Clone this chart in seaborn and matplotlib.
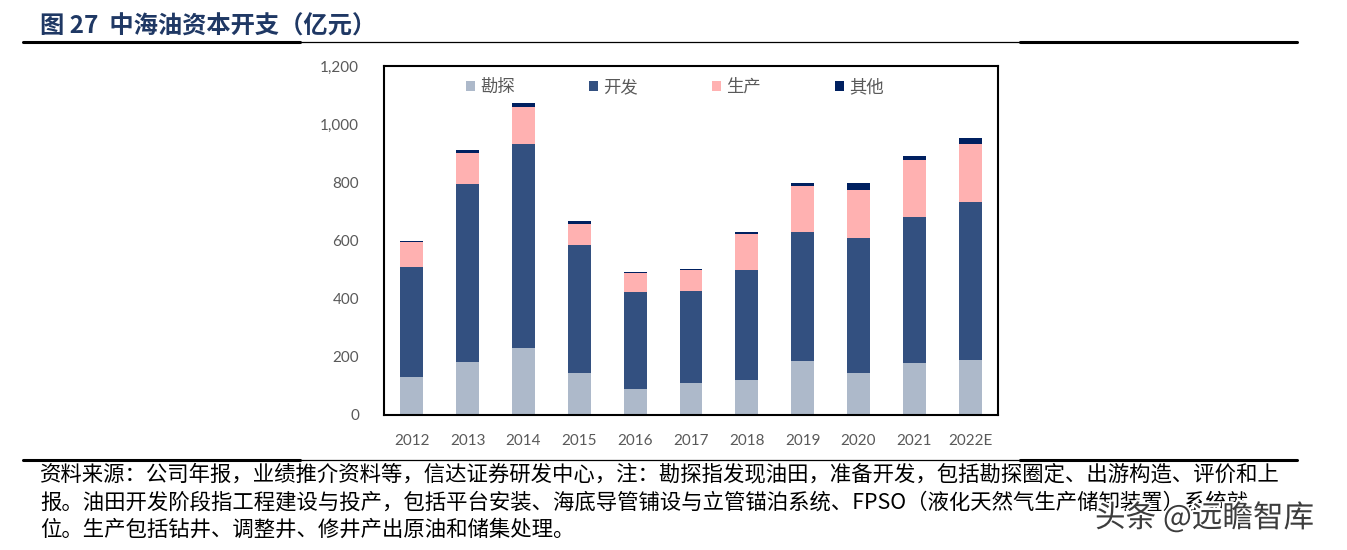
import numpy as np
import pandas as pd
import seaborn as sns
import matplotlib.pyplot as plt
import matplotlib.patheffects as pe
from matplotlib.lines import Line2D
from matplotlib.patches import Patch
from matplotlib.ticker import FuncFormatter

# values (亿元)
years = ["2012", "2013", "2014", "2015", "2016", "2017", "2018", "2019", "2020", "2021", "2022E"]
explore = [129, 182, 231, 146, 90, 109, 122, 184, 143, 178, 189]
develop = [380, 612, 700, 439, 334, 319, 375, 444, 465, 503, 544]
produce = [85, 108, 129, 73, 63, 69, 125, 161, 167, 196, 199]
other = [4, 10, 14, 9, 4, 5, 6, 10, 24, 13, 20]

series_names = ["勘探", "开发", "生产", "其他"]
colors = ["#ADB9CA", "#335080", "#FFB1B1", "#002060"]

sns.set_style("white")
plt.rcParams["font.family"] = ["Noto Sans CJK SC", "DejaVu Sans"]

df = pd.DataFrame({"year": years, "勘探": explore, "开发": develop, "生产": produce, "其他": other})
stack = df[series_names].cumsum(axis=1)

fig = plt.figure(figsize=(13.47, 5.5), dpi=100)
ax = fig.add_axes([384 / 1347, 1 - 415 / 550, 614 / 1347, 349 / 550])

# draw the stacks from the top segment down so each lower part covers the rest
for name, col in reversed(list(zip(series_names, colors))):
    sns.barplot(x=df["year"], y=stack[name], color=col, saturation=1, width=0.41,
                linewidth=0, ax=ax, zorder=2)

ax.set_ylim(0, 1200)
ax.set_yticks(range(0, 1201, 200))
ax.yaxis.set_major_formatter(FuncFormatter(lambda v, p: f"{int(v):,}"))
ax.set_xlabel("")
ax.set_ylabel("")
ax.tick_params(axis="both", length=0, labelsize=11, labelcolor="#595959")
ax.tick_params(axis="y", pad=18)
ax.tick_params(axis="x", pad=14)
for lab in ax.get_xticklabels() + ax.get_yticklabels():
    lab.set_fontfamily(["Lato", "DejaVu Sans"])
for s in ax.spines.values():
    s.set_visible(True)
    s.set_color("black")
    s.set_linewidth(1.5)

handles = [Patch(facecolor=c, edgecolor="none", label=n) for n, c in zip(series_names, colors)]
leg = ax.legend(handles=handles, ncol=4, loc="center", bbox_to_anchor=(0.474, 0.94),
                frameon=False, fontsize=12.5, handlelength=0.52, handleheight=0.52,
                handletextpad=0.3, columnspacing=4.25)
for t in leg.get_texts():
    t.set_color("#595959")

# title and rules
fig.text(40 / 1347, 1 - 27 / 550, "图 27  中海油资本开支（亿元）", fontsize=17.5,
         fontweight="heavy", color="#1F3864", va="center", ha="left")


def rule(y):
    yf = 1 - y / 550
    fig.add_artist(Line2D([23 / 1347, 300 / 1347], [yf, yf], color="black", linewidth=2.2))
    fig.add_artist(Line2D([300 / 1347, 1020 / 1347], [yf, yf], color="black", linewidth=0.9))
    fig.add_artist(Line2D([1020 / 1347, 1297 / 1347], [yf, yf], color="black", linewidth=2.2))


rule(42)
rule(460)

notes = [
    "资料来源：公司年报，业绩推介资料等，信达证券研发中心，注：勘探指发现油田，准备开发，包括勘探圈定、出游构造、评价和上",
    "报。油田开发阶段指工程建设与投产，包括平台安装、海底导管铺设与立管锚泊系统、FPSO（液化天然气生产储卸装置）系统就",
    "位。生产包括钻井、调整井、修井产出原油和储集处理。",
]
for i, line in enumerate(notes):
    fig.text(40 / 1347, 1 - (474 + 28 * i) / 550, line, fontsize=15.4, color="black",
             va="center", ha="left")

wm = fig.text(1095 / 1347, 1 - 518 / 550, "头条 @远瞻智库", fontsize=22, color="#3c3c3c",
              va="center", ha="left")
wm.set_path_effects([pe.withStroke(linewidth=3, foreground="white")])

fig.savefig("out.png", dpi=100)
